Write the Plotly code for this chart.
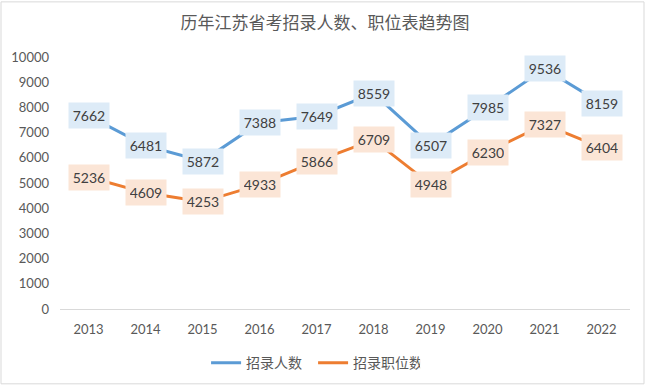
import plotly.graph_objects as go

years = ["2013", "2014", "2015", "2016", "2017", "2018", "2019", "2020", "2021", "2022"]
recruits = [7662, 6481, 5872, 7388, 7649, 8559, 6507, 7985, 9536, 8159]
positions = [5236, 4609, 4253, 4933, 5866, 6709, 4948, 6230, 7327, 6404]

W, H = 650, 391
L, R, T, B = 60, 20, 57, 78

blue = "#5B9BD5"
orange = "#ED7D31"
blue_bg = "#DDEBF7"
orange_bg = "#FBE5D6"

fig = go.Figure()
fig.add_trace(go.Scatter(x=years, y=recruits, mode="lines", name="招录人数",
                         line=dict(color=blue, width=3)))
fig.add_trace(go.Scatter(x=years, y=positions, mode="lines", name="招录职位数",
                         line=dict(color=orange, width=3)))

annotations = []
for series, bg in ((recruits, blue_bg), (positions, orange_bg)):
    for i, v in enumerate(series):
        annotations.append(dict(x=i, y=v, xref="x", yref="y", text=str(v), showarrow=False,
                                bgcolor=bg, borderpad=4, width=32,
                                font=dict(family="Lato, DejaVu Sans", size=14, color="#404040")))

pw = W - L - R
ph = H - T - B
fig.add_shape(type="rect", xref="paper", yref="paper",
              x0=(1 - L) / pw, x1=(644 - L) / pw,
              y0=-(389 - T - ph) / ph, y1=1 + (T - 1) / ph,
              line=dict(color="#D9D9D9", width=1), fillcolor="rgba(0,0,0,0)", layer="below")

fig.update_layout(
    width=W, height=H,
    margin=dict(l=L, r=R, t=T, b=B),
    paper_bgcolor="white", plot_bgcolor="white",
    title=dict(text="历年江苏省考招录人数、职位表趋势图", x=0.5, xanchor="center", y=0.94, yanchor="middle",
               font=dict(family="Noto Sans CJK SC", size=17, color="#595959")),
    xaxis=dict(type="category", range=[-0.5, 9.5], autorange=False, showgrid=False, showline=True,
               linecolor="#D9D9D9", linewidth=1,
               ticks="", tickfont=dict(family="Lato, DejaVu Sans", size=13, color="#595959"),
               ticklabelstandoff=8, zeroline=False),
    yaxis=dict(range=[0, 10000], autorange=False, dtick=1000, tickformat="d", showgrid=False,
               zeroline=False, showline=False,
               ticks="", tickfont=dict(family="Lato, DejaVu Sans", size=13, color="#595959"),
               ticklabelstandoff=10),
    legend=dict(orientation="h", x=0.444, xanchor="center", y=-0.215, yanchor="middle",
                font=dict(family="Noto Sans CJK SC", size=14, color="#595959"),
                itemwidth=30, entrywidth=62, entrywidthmode="pixels"),
    annotations=annotations,
    showlegend=True,
)

fig.write_html("out.html", config={"displayModeBar": False},
               post_script="document.body.style.margin='0';document.body.style.overflow='hidden';")
